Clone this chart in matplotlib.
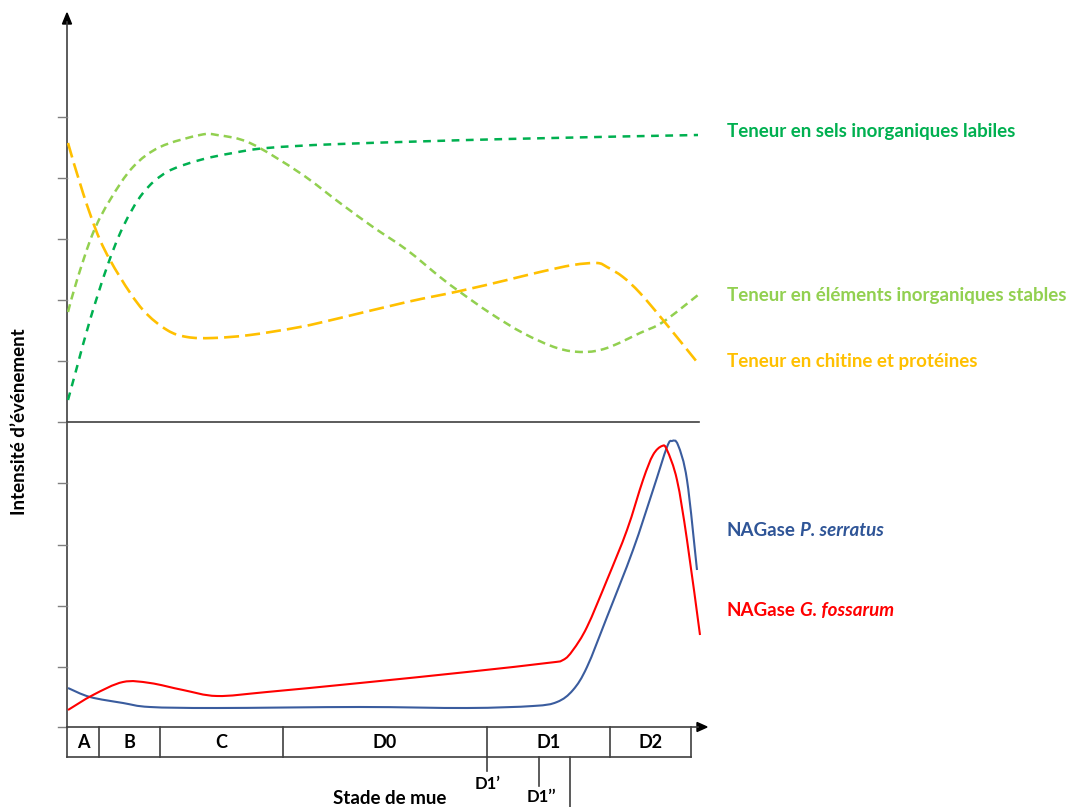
import matplotlib
matplotlib.use("Agg")
import matplotlib.pyplot as plt
import numpy as np
from matplotlib.patches import Polygon, PathPatch
from matplotlib.path import Path

plt.rcParams['font.family'] = ['Lato', 'DejaVu Sans']

# ---------------- data (schematic intensities, arbitrary units) ----------------
# x: time along the moult cycle (arbitrary units, 0 = start of stage A)
# upper panel
sels_x = [1, 10, 23, 40, 56, 76, 100, 133, 166, 200, 273, 440, 631]
sels_y = [22, 55, 102, 155, 195, 229, 250, 262, 269, 274, 278, 283, 287]

stables_x = [1, 10, 26, 43, 66, 93, 133, 150, 183, 233, 273, 306, 340, 373, 393,
             423, 456, 490, 516, 540, 573, 596, 631]
stables_y = [110, 142, 189, 222, 255, 275, 287, 287, 279, 249, 219, 195, 172, 145, 130,
             109, 89, 74, 70, 74, 89, 100, 127]

chitine_x = [1, 16, 33, 53, 76, 100, 120, 146, 183, 233, 273, 340, 393, 440, 473,
             506, 530, 540, 556, 573, 596, 630]
chitine_y = [279, 229, 182, 145, 112, 92, 85, 84, 87, 95, 104, 120, 131, 142, 150,
             157, 159, 155, 145, 129, 102, 60]

# lower panel
serratus_x = [1, 23, 56, 83, 150, 293, 400, 466, 490, 506, 520, 540, 566, 586, 600,
              605, 611, 620, 630]
serratus_y = [39, 30, 24, 20, 19, 20, 19, 21, 25, 37, 60, 110, 177, 237, 280,
              286, 282, 247, 157]

fossarum_x = [1, 26, 56, 83, 116, 150, 200, 293, 400, 480, 496, 506, 520, 540, 560,
              576, 586, 595, 600, 610, 620, 633]
fossarum_y = [17, 32, 45, 44, 37, 31, 35, 44, 55, 64, 67, 77, 100, 147, 197,
              247, 272, 281, 277, 247, 187, 92]

# stages
stage_names = ['A', 'B', 'C', 'D0', 'D1', 'D2']
stage_bounds = [0, 32, 93, 216, 420, 543, 624]
sub_marks = [420, 472, 503]          # D1', D1'', end of D1 sub-stage
sub_labels = ['D1’', 'D1’’']

series_labels = ['Teneur en sels inorganiques labiles',
                 'Teneur en éléments inorganiques stables',
                 'Teneur en chitine et protéines']
c_sels, c_stab, c_chit = '#00B050', '#92D050', '#FFC000'
c_ser, c_fos = '#3A5C9E', '#FF0000'
c_ser_txt = '#2F5597'

# ---------------- helpers ----------------
def smooth_path(xs, ys):
    """Catmull-Rom curve through the points, expressed as cubic Bezier segments."""
    p = np.column_stack([xs, ys]).astype(float)
    verts = [p[0]]
    codes = [Path.MOVETO]
    n = len(p)
    for i in range(n - 1):
        p0 = p[i - 1] if i > 0 else p[i]
        p1, p2 = p[i], p[i + 1]
        p3 = p[i + 2] if i + 2 < n else p[i + 1]
        c1 = p1 + (p2 - p0) / 6.0
        c2 = p2 - (p3 - p1) / 6.0
        verts += [c1, c2, p2]
        codes += [Path.CURVE4] * 3
    return Path(verts, codes)

def draw_curve(ax, xs, ys, **kw):
    ax.add_patch(PathPatch(smooth_path(xs, ys), fill=False, capstyle='butt', **kw))

# ---------------- figure ----------------
W, H = 1070, 807
fig = plt.figure(figsize=(W / 100, H / 100), dpi=100)

ov = fig.add_axes([0, 0, 1, 1])
ov.set_xlim(0, W)
ov.set_ylim(H, 0)
ov.axis('off')

x0 = 67
y_mid = 422
y_box_top, y_box_bot = 727, 757
axc = '#404040'

def px(x):
    return x0 + x

def add_data_axes(ytop, ybot, ymax):
    ax = fig.add_axes([x0 / W, 1 - ybot / H, 640 / W, (ybot - ytop) / H])
    ax.set_xlim(0, 640)
    ax.set_ylim(0, ymax)
    ax.axis('off')
    ax.patch.set_alpha(0)
    return ax

ax_top = add_data_axes(15, y_mid, y_mid - 15)
ax_bot = add_data_axes(y_mid, y_box_top, y_box_top - y_mid)

draw_curve(ax_top, sels_x, sels_y, edgecolor=c_sels, lw=1.8, linestyle=(0, (3.1, 2.6)))
draw_curve(ax_top, stables_x, stables_y, edgecolor=c_stab, lw=1.8, linestyle=(0, (3.2, 2.0)))
draw_curve(ax_top, chitine_x, chitine_y, edgecolor=c_chit, lw=1.9, linestyle=(0, (5.7, 2.3)))

draw_curve(ax_bot, serratus_x, serratus_y, edgecolor=c_ser, lw=1.5)
draw_curve(ax_bot, fossarum_x, fossarum_y, edgecolor=c_fos, lw=1.5)

# y axis with arrow
ov.plot([x0, x0], [y_box_top, 22], color=axc, lw=1.2)
ov.add_patch(Polygon([[x0 - 4.5, 24], [x0 + 4.5, 24], [x0, 13]], closed=True, color='black'))
for yt in [117, 178, 239, 300, 361, 422, 483, 545, 606, 667, 727]:
    ov.plot([58, x0], [yt, yt], color='#7f7f7f', lw=1.0)
ov.plot([x0, 699], [y_mid, y_mid], color=axc, lw=1.2)
ov.plot([x0, 698], [y_box_top, y_box_top], color=axc, lw=1.2)
ov.add_patch(Polygon([[697, y_box_top - 4.5], [697, y_box_top + 4.5], [707, y_box_top]],
                     closed=True, color='black'))

# stage boxes
for b in stage_bounds:
    ov.plot([px(b), px(b)], [y_box_top, y_box_bot], color=axc, lw=1.2)
ov.plot([px(stage_bounds[0]), px(stage_bounds[-1])], [y_box_bot, y_box_bot], color=axc, lw=1.2)
for name, a, b in zip(stage_names, stage_bounds[:-1], stage_bounds[1:]):
    ov.text((px(a) + px(b)) / 2, 742, name, ha='center', va='center',
            fontsize=13, fontweight='bold', color='black')

ends = [771, 786, 807]
for m, e in zip(sub_marks, ends):
    ov.plot([px(m), px(m)], [y_box_bot, e], color=axc, lw=1.2)
ov.text(px(sub_marks[0]) + 1, 784, sub_labels[0], ha='center', va='center',
        fontsize=12, fontweight='bold')
ov.text(px(sub_marks[1]) + 2, 797, sub_labels[1], ha='center', va='center',
        fontsize=12, fontweight='bold')

ov.text(390, 799, 'Stade de mue', ha='center', va='center', fontsize=13.5, fontweight='bold')
ov.text(20, 422, 'Intensité d’événement', ha='center', va='center', rotation=90,
        fontsize=13.5, fontweight='bold')

lab_x = 727
fs = 13.5
ov.text(lab_x, 131, series_labels[0], color=c_sels, fontsize=fs, fontweight='bold', va='center')
ov.text(lab_x, 295, series_labels[1], color=c_stab, fontsize=fs, fontweight='bold', va='center')
ov.text(lab_x, 361, series_labels[2], color=c_chit, fontsize=fs, fontweight='bold', va='center')

for yy, sp, col in [(531, 'P. serratus', c_ser_txt), (611, 'G. fossarum', c_fos)]:
    t1 = ov.text(lab_x, yy, 'NAGase', color=col, fontsize=fs, fontweight='bold', va='center')
    ov.annotate(sp, xy=(1, 0), xycoords=t1, xytext=(3, 0), textcoords='offset points',
                ha='left', va='bottom', color=col, fontsize=fs, fontweight='bold',
                fontstyle='italic')

fig.savefig('out.png', dpi=100)
